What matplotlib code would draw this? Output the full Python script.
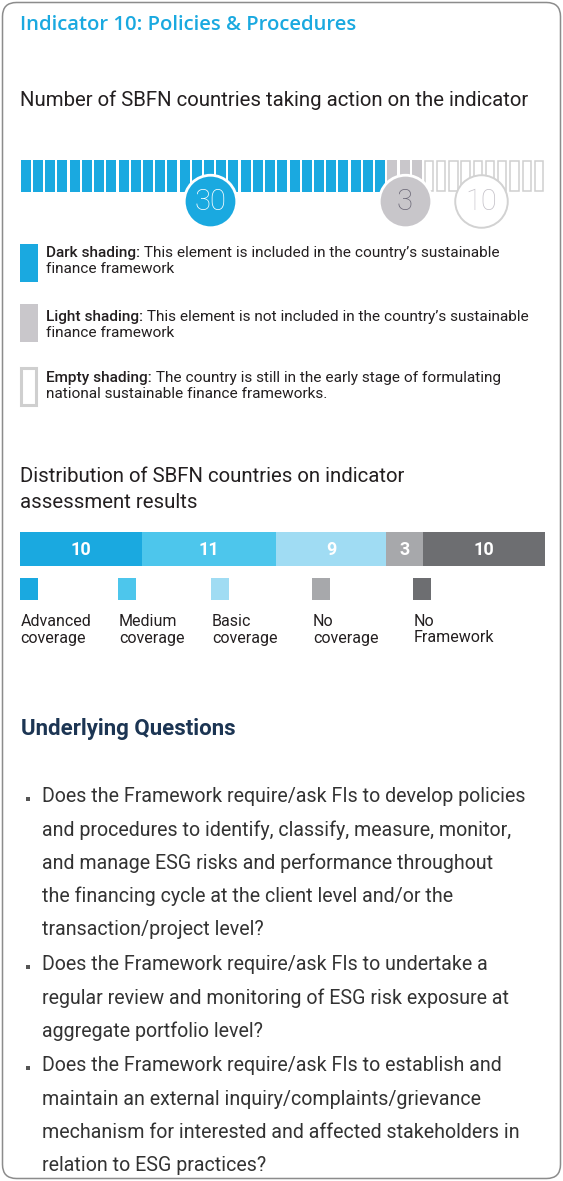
import matplotlib
matplotlib.use('Agg')
import matplotlib.pyplot as plt
from matplotlib.patches import FancyBboxPatch, Rectangle
import numpy as np

W, H = 563, 1181

# ---------------- data ----------------
title = 'Indicator 10: Policies & Procedures'
waffle_title = 'Number of SBFN countries taking action on the indicator'
waffle_groups = ['Dark shading', 'Light shading', 'Empty shading']
waffle_counts = [30, 3, 10]

legend_heads = ['Dark shading:', 'Light shading:', 'Empty shading:']
legend_line1 = [' This element is included in the country\u2019s sustainable',
                ' This element is not included in the country\u2019s sustainable',
                ' The country is still in the early stage of formulating']
legend_line2 = ['finance framework', 'finance framework',
                'national sustainable finance frameworks.']

dist_title = ['Distribution of SBFN countries on indicator', 'assessment results']
dist_categories = ['Advanced\ncoverage', 'Medium\ncoverage', 'Basic\ncoverage',
                   'No\ncoverage', 'No\nFramework']
dist_values = [10, 11, 9, 3, 10]

questions_title = 'Underlying Questions'
questions = [
    ['Does the Framework require/ask FIs to develop policies',
     'and procedures to identify, classify, measure, monitor,',
     'and manage ESG risks and performance throughout',
     'the financing cycle at the client level and/or the',
     'transaction/project level?'],
    ['Does the Framework require/ask FIs to undertake a',
     'regular review and monitoring of ESG risk exposure at',
     'aggregate portfolio level?'],
    ['Does the Framework require/ask FIs to establish and',
     'maintain an external inquiry/complaints/grievance',
     'mechanism for interested and affected stakeholders in',
     'relation to ESG practices?'],
]

# ---------------- styles ----------------
BLUE = '#1aa9e0'
GRAY_CELL = '#c9c7cb'
EMPTY_EDGE = '#cfcfcf'
TXT = '#231f20'
dist_colors = ['#1aa9e0', '#4dc6ec', '#a0dcf3', '#a7a8ab', '#6d6e71']
FONT = ['Roboto', 'DejaVu Sans']

fig = plt.figure(figsize=(W / 100, H / 100), dpi=100)
fig.patch.set_facecolor('white')

bg = fig.add_axes([0, 0, 1, 1])
bg.set_xlim(0, W)
bg.set_ylim(H, 0)
bg.axis('off')


def px_axes(x0, y0, x1, y1):
    return fig.add_axes([x0 / W, 1 - y1 / H, (x1 - x0) / W, (y1 - y0) / H])


# card border
bg.add_patch(FancyBboxPatch((2.5, 2.5), W - 5, H - 5,
                            boxstyle='round,pad=0,rounding_size=14',
                            fc='white', ec='#8c8c8c', lw=1.1))

bg.text(20, 25, title, color=BLUE, fontsize=14.6, fontweight='semibold',
        family=['Open Sans', 'DejaVu Sans'], va='center', ha='left')
bg.text(20, 100, waffle_title, color=TXT, fontsize=14.7, family=FONT,
        va='center', ha='left')

# ---------------- waffle ----------------
wx0, wx1 = 19.7, 545
wa = px_axes(wx0, 140, wx1, 240)
wa.set_xlim(0, sum(waffle_counts))
wa.set_ylim(240, 140)
wa.axis('off')

starts = np.concatenate([[0], np.cumsum(waffle_counts)[:-1]])
idx0 = np.arange(starts[0], starts[0] + waffle_counts[0])
wa.bar(idx0 + 0.5, 32, bottom=160, width=0.82, color=BLUE, lw=0, zorder=1)
idx1 = np.arange(starts[1], starts[1] + waffle_counts[1])
wa.bar(idx1 + 0.5, 32, bottom=160, width=0.82, color=GRAY_CELL, lw=0, zorder=1)
idx2 = np.arange(starts[2], starts[2] + waffle_counts[2])
wa.bar(idx2 + 0.5, 30.6, bottom=160.7, width=0.68, facecolor='white',
       edgecolor=EMPTY_EDGE, lw=1.1, zorder=1)

circle_shift = [0.6, 0.0, -0.2]
circ_face = [BLUE, '#c8c6ca', 'white']
circ_edge = ['white', 'white', '#d2d2d2']
circ_txt = ['white', '#6b6877', '#c4c1c8']
for s, c, sh, fc, ec, tc in zip(starts, waffle_counts, circle_shift,
                                circ_face, circ_edge, circ_txt):
    cx = s + c / 2 + sh
    wa.scatter([cx], [201], s=1430, c=fc, edgecolors=ec,
               linewidths=2 if ec == 'white' else 1.4, zorder=3)
    wa.text(cx, 202, str(c), color=tc, fontsize=21, fontweight='light',
            family=FONT, ha='center', va='center', zorder=4)

# ---------------- legend ----------------
leg_y = [(244, 282), (304, 342), (366, 406)]
leg_text_y = [(253, 269), (317, 333), (378, 394)]
LFS = 11.1
for i in range(3):
    y0, y1 = leg_y[i]
    if i == 0:
        bg.add_patch(Rectangle((19.7, y0), 18, y1 - y0, fc=BLUE, lw=0))
    elif i == 1:
        bg.add_patch(Rectangle((19.7, y0), 18, y1 - y0, fc=GRAY_CELL, lw=0))
    else:
        bg.add_patch(Rectangle((21.2, y0 + 1.5), 15, y1 - y0 - 3, fc='white',
                               ec=EMPTY_EDGE, lw=2.2))
    ty1, ty2 = leg_text_y[i]
    head = bg.text(46, ty1, legend_heads[i], color=TXT, fontsize=LFS,
                   fontweight='medium', family=FONT, va='center', ha='left')
    bg.annotate(legend_line1[i], xy=(1, 0), xycoords=head, va='bottom',
                ha='left', color=TXT, fontsize=LFS, family=FONT)
    bg.text(46, ty2, legend_line2[i], color=TXT, fontsize=LFS, family=FONT,
            va='center', ha='left')

# ---------------- distribution ----------------
bg.text(20, 477, dist_title[0], color=TXT, fontsize=14.7, family=FONT,
        va='center', ha='left')
bg.text(20, 502, dist_title[1], color=TXT, fontsize=14.7, family=FONT,
        va='center', ha='left')

da = px_axes(wx0, 532, wx1, 566)
da.set_xlim(0, sum(dist_values))
da.set_ylim(0, 1)
da.axis('off')
lefts = np.concatenate([[0], np.cumsum(dist_values)[:-1]])
da.barh([0.5] * len(dist_values), dist_values, left=lefts, height=1,
        color=dist_colors, lw=0)
for l, v in zip(lefts, dist_values):
    da.text(l + v / 2, 0.48, str(v), color='white', fontsize=13,
            fontweight='bold', family=FONT, ha='center', va='center')

leg_x = [19.7, 118, 211, 312, 413]
for x, col, lab in zip(leg_x, dist_colors, dist_categories):
    bg.add_patch(Rectangle((x, 578), 18, 22, fc=col, lw=0))
    l1, l2 = lab.split('\n')
    bg.text(x + 1, 622, l1, color=TXT, fontsize=11.5, family=FONT,
            va='center', ha='left')
    bg.text(x + 1, 638, l2, color=TXT, fontsize=11.5, family=FONT,
            va='center', ha='left')

# ---------------- questions ----------------
bg.text(21, 729, questions_title, color='#1c3553', fontsize=16,
        fontweight='bold', family=FONT, va='center', ha='left')

y = 797
for q in questions:
    bg.add_patch(Rectangle((26, y), 4, 4, fc='#555555', lw=0))
    for line in q:
        bg.text(42, y, line, color='#333333', fontsize=14.1, family=FONT,
                va='center', ha='left')
        y += 33.2
    y += 1.6

fig.savefig('out.png', dpi=100, facecolor='white')
